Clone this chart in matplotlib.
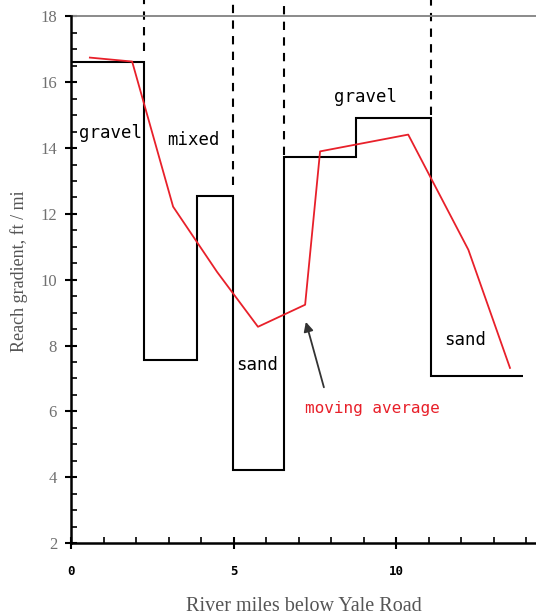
import matplotlib
matplotlib.use('Agg')

import matplotlib.pyplot as plt
import matplotlib.ticker as ticker

# reach boundaries (river miles) and the gradient of each reach (ft/mi)
reach_edges = [0.0, 2.25, 3.88, 4.98, 6.55, 8.77, 11.08, 13.9]
reach_grad  = [16.63, 7.55, 12.55, 4.22, 13.74, 14.9, 7.08]

# dashed dividers between bed-material zones and the gradient where each stops
divider_x   = [2.25, 4.98, 6.55, 11.08]
divider_bot = [16.94, 12.89, 13.8, 15.02]

# moving average of gradient
avg_miles = [0.58, 1.88, 3.14, 4.49, 5.75, 7.2, 7.66, 10.37, 12.22, 13.5]
avg_grad  = [16.75, 16.63, 12.22, 10.24, 8.57, 9.24, 13.9, 14.41, 10.91, 7.32]

# bed-material labels
zone_names = ["gravel", "mixed", "sand", "gravel", "sand"]
zone_x     = [1.2, 3.75, 5.72, 9.05, 12.12]
zone_y     = [14.47, 14.26, 7.41, 15.54, 8.18]

fig = plt.figure(figsize=(5.36, 6.15), dpi=100)
ax = fig.add_axes([71 / 536, 72 / 615, 1 - 71 / 536, 543 / 615])
ax.set_xlim(0, 14.3)
ax.set_ylim(2, 18.5)

ax.stairs(reach_grad, reach_edges, baseline=None, color="black", linewidth=1.5)
ax.plot(avg_miles, avg_grad, color="#e8202a", linewidth=1.3)

for x, yb in zip(divider_x, divider_bot):
    ax.plot([x, x], [yb, 18.5], color="black", linewidth=1.5,
            linestyle=(0, (4, 3.5)), clip_on=False)

ax.axhline(18, color="#8a8a8a", linewidth=1.4)

for name, x, y in zip(zone_names, zone_x, zone_y):
    ax.text(x, y, name, ha="center", va="center", fontsize=12.5,
            family="DejaVu Sans Mono", color="black")

ax.annotate("", xy=(7.2, 8.8), xytext=(7.8, 6.65),
            arrowprops=dict(arrowstyle="-|>", color="#333333", lw=1.3,
                            mutation_scale=14))
ax.text(9.26, 6.1, "moving average", ha="center", va="center", fontsize=11.5,
        family="DejaVu Sans Mono", color="#e8202a")

for side in ("top", "right"):
    ax.spines[side].set_visible(False)
ax.spines["left"].set_bounds(2, 18)
ax.spines["left"].set_linewidth(1.8)
ax.spines["bottom"].set_linewidth(1.8)

ax.xaxis.set_major_locator(ticker.MultipleLocator(5))
ax.xaxis.set_minor_locator(ticker.MultipleLocator(1))
ax.yaxis.set_major_locator(ticker.FixedLocator([2, 4, 6, 8, 10, 12, 14, 16, 18]))
ax.yaxis.set_minor_locator(ticker.FixedLocator([v / 2 for v in range(4, 37)]))

ax.tick_params(axis="x", which="major", direction="inout", length=8, width=1.5,
               pad=12, labelsize=9)
ax.tick_params(axis="x", which="minor", direction="in", length=4, width=1.2)
ax.tick_params(axis="y", which="major", direction="inout", length=8, width=1.5,
               pad=6, labelsize=12, labelcolor="#707070")
ax.tick_params(axis="y", which="minor", direction="in", length=4, width=1.2)

for lab in ax.get_xticklabels():
    lab.set_family("DejaVu Sans Mono")
    lab.set_fontweight("bold")
for lab in ax.get_yticklabels():
    lab.set_family("Liberation Serif")

ax.set_xlabel("River miles below Yale Road", family="Liberation Serif",
              fontsize=14.5, color="#555555")
ax.xaxis.set_label_coords(0.5, -0.099)
ax.set_ylabel("Reach gradient, ft / mi", family="Liberation Serif",
              fontsize=13, color="#555555")
ax.yaxis.set_label_coords(-0.093, 0.5)

fig.savefig("out.png", dpi=100)
plt.close("all")
